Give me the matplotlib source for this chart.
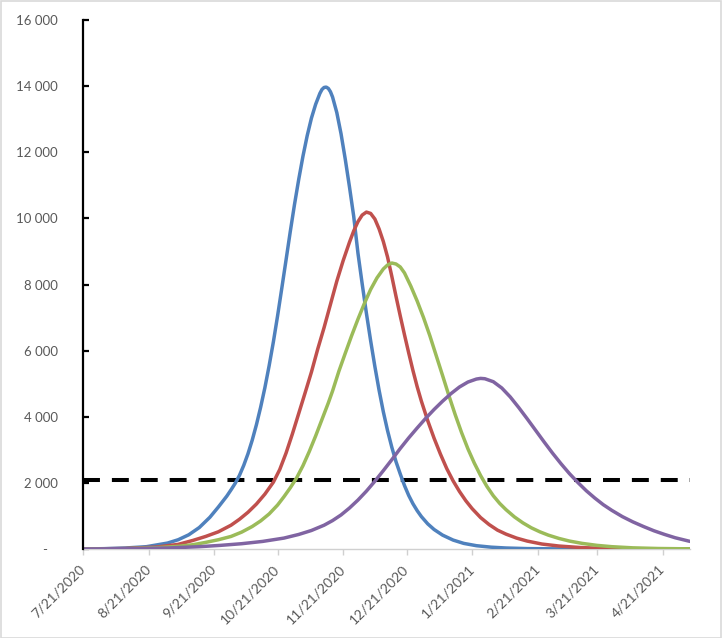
import numpy as np
import matplotlib
matplotlib.use("Agg")
import matplotlib.pyplot as plt
from matplotlib.patches import Rectangle

plt.rcParams['font.family'] = ['Lato', 'DejaVu Sans']

start = np.datetime64('2020-07-21')
end_day = 287

blue_days = [0, 10, 20, 30, 40, 45, 50, 55, 60, 64, 68, 70, 72, 74, 76, 78, 80, 82, 84, 86, 88,
             90, 92, 94, 96, 98, 100, 102, 104, 106, 108, 110, 112, 113, 114, 115, 116, 117, 118,
             120, 122, 124, 126, 128, 130, 132, 134, 136, 138, 140, 142, 144, 146, 148, 150, 152,
             154, 156, 158, 160, 163, 166, 170, 175, 180, 186, 193, 200, 210, 225, 250, 287]
blue_vals = [0, 10, 30, 70, 180, 280, 430, 650, 960, 1270, 1600, 1790, 1990, 2230, 2530, 2880,
             3290, 3760, 4290, 4880, 5540, 6260, 7050, 7890, 8740, 9600, 10420, 11180, 11880,
             12500, 13030, 13450, 13780, 13900, 13960, 13970, 13930, 13830, 13670, 13200, 12560,
             11790, 10950, 10060, 8950, 8020, 7130, 6300, 5520, 4800, 4150, 3580, 3080, 2640,
             2270, 1920, 1620, 1370, 1160, 980, 760, 590, 420, 270, 170, 100, 55, 30, 12, 4, 0, 0]

red_days = [0, 20, 35, 45, 52, 58, 64, 70, 74, 78, 82, 86, 90, 93, 96, 99, 102, 105, 108, 111,
            114, 117, 120, 123, 126, 128, 130, 132, 134, 136, 138, 140, 142, 144, 146, 148, 150,
            152, 154, 156, 158, 160, 163, 166, 169, 172, 175, 178, 181, 184, 188, 192, 196, 200,
            205, 210, 217, 225, 235, 245, 260, 287]
red_vals = [0, 15, 60, 140, 260, 380, 520, 720, 900, 1110, 1360, 1660, 2020, 2400, 2900, 3480,
            4100, 4720, 5350, 6050, 6700, 7400, 8100, 8720, 9280, 9620, 9900, 10100, 10190,
            10150, 9980, 9680, 9300, 8830, 8250, 7640, 7050, 6480, 5930, 5400, 4910, 4470, 3880,
            3350, 2870, 2430, 2060, 1740, 1460, 1220, 950, 740, 570, 450, 330, 240, 150, 90, 45,
            20, 5, 0]

green_days = [0, 20, 35, 45, 52, 58, 64, 70, 75, 80, 84, 88, 92, 95, 98, 101, 104, 107, 110, 113,
              116, 118, 121, 124, 127, 130, 133, 136, 139, 142, 144, 146, 148, 150, 152, 155, 158,
              161, 164, 167, 170, 173, 176, 179, 182, 185, 188, 191, 194, 197, 200, 204, 208, 212,
              216, 220, 225, 230, 236, 243, 250, 260, 272, 287]
green_vals = [0, 10, 40, 80, 130, 200, 280, 380, 510, 680, 850, 1060, 1330, 1580, 1850, 2150,
              2520, 2950, 3420, 3920, 4420, 4780, 5380, 5920, 6450, 6950, 7420, 7850, 8200, 8470,
              8590, 8650, 8620, 8530, 8350, 7950, 7500, 7000, 6450, 5850, 5250, 4640, 4060, 3520,
              3030, 2600, 2220, 1890, 1610, 1380, 1190, 970, 790, 640, 520, 420, 320, 240, 170,
              110, 70, 35, 15, 5]

purple_days = [0, 20, 40, 55, 65, 75, 85, 95, 102, 108, 114, 118, 122, 126, 130, 134, 138, 142,
               146, 150, 154, 158, 162, 166, 170, 174, 178, 182, 186, 188, 190, 194, 198, 202, 206,
               210, 214, 218, 222, 226, 230, 234, 238, 242, 246, 250, 255, 260, 265, 270, 275, 280,
               287]
purple_vals = [0, 10, 30, 70, 110, 160, 230, 330, 440, 560, 720, 860, 1030, 1240, 1480, 1750,
               2050, 2370, 2700, 3040, 3360, 3660, 3950, 4220, 4470, 4700, 4900, 5050, 5140, 5160,
               5150, 5060, 4870, 4600, 4280, 3940, 3590, 3240, 2900, 2580, 2280, 2010, 1760, 1540,
               1340, 1170, 980, 820, 680, 550, 440, 340, 230]

threshold = 2080

tick_dates = ['2020-07-21', '2020-08-21', '2020-09-21', '2020-10-21', '2020-11-21',
              '2020-12-21', '2021-01-21', '2021-02-21', '2021-03-21', '2021-04-21']
tick_labels = ['7/21/2020', '8/21/2020', '9/21/2020', '10/21/2020', '11/21/2020',
               '12/21/2020', '1/21/2021', '2/21/2021', '3/21/2021', '4/21/2021']
y_ticks = [0, 2000, 4000, 6000, 8000, 10000, 12000, 14000, 16000]
y_labels = ['-   ', '2 000', '4 000', '6 000', '8 000', '10 000', '12 000', '14 000', '16 000']

W, H = 722, 638
fig = plt.figure(figsize=(W / 100, H / 100), dpi=100)
fig.patches.append(Rectangle((0.5 / W, 0.5 / H), 1 - 1.5 / W, 1 - 1.5 / H,
                             transform=fig.transFigure, fill=False,
                             edgecolor='#d9d9d9', linewidth=1.2))

ax = fig.add_axes([83 / W, 1 - 549 / H, (690 - 83) / W, (549 - 20) / H])

def to_dates(days):
    return start + np.array(days, dtype='timedelta64[D]')

dash_lw = 2.9
ax.axhline(threshold, color='black', linewidth=dash_lw,
           dashes=(12.2 / dash_lw, 8.6 / dash_lw), dash_capstyle='butt', zorder=2)

series = [
    (blue_days, blue_vals, '#4F81BD'),
    (red_days, red_vals, '#C0504D'),
    (green_days, green_vals, '#9BBB59'),
    (purple_days, purple_vals, '#8064A2'),
]
for d, v, c in series:
    ax.plot(to_dates(d), v, color=c, linewidth=2.5, solid_joinstyle='round',
            solid_capstyle='round', zorder=3)

ax.set_xlim(start, start + np.timedelta64(end_day, 'D'))
ax.set_ylim(0, 16000)

for s in ['top', 'right']:
    ax.spines[s].set_visible(False)
ax.spines['left'].set_color('black')
ax.spines['left'].set_linewidth(1.6)
ax.spines['left'].set_zorder(4)
ax.spines['bottom'].set_color('#d0d0d0')
ax.spines['bottom'].set_linewidth(1.0)

ax.set_yticks(y_ticks)
ax.set_yticklabels(y_labels)
ax.tick_params(axis='y', direction='in', length=4, width=1.6, color='black',
               labelcolor='#595959', labelsize=9.5, pad=18)

ax.set_xticks(np.array(tick_dates, dtype='datetime64[D]'))
ax.set_xticklabels(tick_labels)
ax.tick_params(axis='x', direction='out', length=4, width=1.0, color='#d0d0d0',
               labelcolor='#595959', labelsize=10, pad=9)
for lab in ax.get_xticklabels():
    lab.set_rotation(45)
    lab.set_ha('right')
    lab.set_va('center')
    lab.set_rotation_mode('anchor')

fig.savefig('out.png', dpi=100)
